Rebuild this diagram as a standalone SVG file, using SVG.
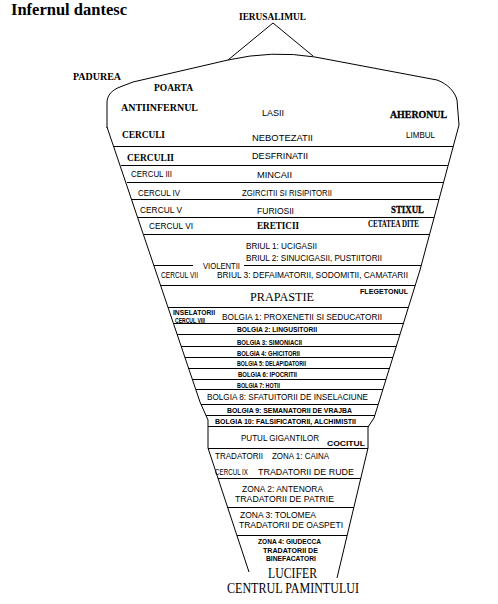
<svg xmlns="http://www.w3.org/2000/svg" width="498" height="604" viewBox="0 0 498 604">
<style>
.ln{stroke:#000;stroke-width:1;fill:none}
.m{font-family:"Liberation Serif","Times New Roman",serif;font-size:10px;font-weight:bold;fill:#000}
.mb{font-family:"Liberation Serif","Times New Roman",serif;font-size:11px;font-weight:bold;fill:#000;stroke:#000;stroke-width:0.3}
.s{font-family:"Liberation Sans",Arial,sans-serif;font-size:9.5px;fill:#000}
.b{font-family:"Liberation Sans",Arial,sans-serif;font-size:7.5px;font-weight:bold;fill:#000}
.r{font-family:"Liberation Serif","Times New Roman",serif;fill:#000}
</style>
<rect width="498" height="604" fill="#fff"/>
<text id="title" class="r" x="11" y="15" font-size="16" font-weight="bold" textLength="116" lengthAdjust="spacingAndGlyphs">Infernul dantesc</text>

<g id="outline">
<path class="ln" d="M107,128 L107,103 C107,95 112,90 120,87 L133,82 L228,60 Q272,50 315,57 L437,80 C448,84 455,92 457,100 L459,125"/>
<path class="ln" d="M228,60 L273,23 L313,56"/>
<polyline class="ln" points="107,127 200,402 208,420 208,448 249,572"/>
<polyline class="ln" points="459,125 420,270 374,418 368,427 368,448 337,578"/>
</g>

<g id="connectors">
<line class="ln" x1="114" y1="146.5" x2="453" y2="146.5"/>
<line class="ln" x1="121" y1="165.5" x2="448" y2="165.5"/>
<line class="ln" x1="127" y1="182.5" x2="444" y2="182.5"/>
<line class="ln" x1="132" y1="199.5" x2="439" y2="199.5"/>
<line class="ln" x1="138" y1="217.5" x2="434" y2="217.5"/>
<line class="ln" x1="144" y1="234.5" x2="430" y2="234.5"/>
<line class="ln" x1="154" y1="265.5" x2="193" y2="265.5"/>
<line class="ln" x1="244" y1="265.5" x2="421" y2="265.5"/>
<line class="ln" x1="160" y1="285.5" x2="415" y2="285.5"/>
<line class="ln" x1="168" y1="307.5" x2="408" y2="307.5"/>
<line class="ln" x1="173" y1="323.5" x2="404" y2="323.5"/>
<line class="ln" x1="177" y1="334.5" x2="400" y2="334.5"/>
<line class="ln" x1="181" y1="346.5" x2="396" y2="346.5"/>
<line class="ln" x1="185" y1="357.5" x2="393" y2="357.5"/>
<line class="ln" x1="188" y1="368.5" x2="390" y2="368.5"/>
<line class="ln" x1="192" y1="379.5" x2="386" y2="379.5"/>
<line class="ln" x1="196" y1="389.5" x2="383" y2="389.5"/>
<line class="ln" x1="201" y1="404.5" x2="378" y2="404.5"/>
<line class="ln" x1="206" y1="415.5" x2="375" y2="415.5"/>
<line class="ln" x1="208" y1="426.5" x2="369" y2="426.5"/>
<line class="ln" x1="208" y1="448.5" x2="368" y2="448.5"/>
<line class="ln" x1="218" y1="478.5" x2="361" y2="478.5"/>
<line class="ln" x1="227" y1="507.5" x2="354" y2="507.5"/>
<line class="ln" x1="237" y1="535.5" x2="347" y2="535.5"/>
</g>

<g id="top">
<text class="m" x="239" y="20" textLength="67" lengthAdjust="spacingAndGlyphs">IERUSALIMUL</text>
<text class="m" x="73" y="79.5" textLength="48" lengthAdjust="spacingAndGlyphs">PADUREA</text>
<text class="m" x="154" y="90.5" textLength="39" lengthAdjust="spacingAndGlyphs">POARTA</text>
</g>
<g id="antiinfern">
<text class="m" x="121" y="110.5" textLength="77" lengthAdjust="spacingAndGlyphs">ANTIINFERNUL</text>
<text class="s" x="262" y="115.5" textLength="22" lengthAdjust="spacingAndGlyphs">LASII</text>
<text class="mb" x="390" y="118" textLength="57" lengthAdjust="spacingAndGlyphs">AHERONUL</text>
</g>
<g id="cercul1">
<text class="m" x="122" y="138" textLength="43" lengthAdjust="spacingAndGlyphs">CERCULI</text>
<text class="s" x="252" y="140.5" textLength="61" lengthAdjust="spacingAndGlyphs">NEBOTEZATII</text>
<text class="s" x="406" y="137.5" font-size="8.5" textLength="29" lengthAdjust="spacingAndGlyphs">LIMBUL</text>
</g>
<g id="cercul2">
<text class="m" x="127" y="160.5" textLength="47" lengthAdjust="spacingAndGlyphs">CERCULII</text>
<text class="s" x="252" y="159" textLength="56" lengthAdjust="spacingAndGlyphs">DESFRINATII</text>
</g>
<g id="cercul3">
<text class="s" x="131" y="177" textLength="41" lengthAdjust="spacingAndGlyphs">CERCUL III</text>
<text class="s" x="257" y="178" textLength="35" lengthAdjust="spacingAndGlyphs">MINCAII</text>
</g>
<g id="cercul4">
<text class="s" x="138" y="195.5" textLength="42" lengthAdjust="spacingAndGlyphs">CERCUL IV</text>
<text class="s" x="242" y="195.5" font-size="8.5" textLength="90" lengthAdjust="spacingAndGlyphs">ZGIRCITII SI RISIPITORII</text>
</g>
<g id="cercul5">
<text class="s" x="140" y="213" textLength="42" lengthAdjust="spacingAndGlyphs">CERCUL V</text>
<text class="s" x="257" y="214" textLength="37" lengthAdjust="spacingAndGlyphs">FURIOSII</text>
<text class="mb" x="391" y="212.5" font-size="10" textLength="33" lengthAdjust="spacingAndGlyphs">STIXUL</text>
</g>
<g id="cercul6">
<text class="s" x="149" y="229" textLength="44" lengthAdjust="spacingAndGlyphs">CERCUL VI</text>
<text class="m" x="257" y="229" textLength="42" lengthAdjust="spacingAndGlyphs">ERETICII</text>
<text class="m" x="368" y="227" font-size="7.5" textLength="51" lengthAdjust="spacingAndGlyphs">CETATEA  DITE</text>
</g>
<g id="cercul7">
<text class="s" x="246" y="248.5" textLength="71" lengthAdjust="spacingAndGlyphs">BRIUL 1:  UCIGASII</text>
<text class="s" x="246" y="260.5" textLength="136" lengthAdjust="spacingAndGlyphs">BRIUL 2:  SINUCIGASII,  PUSTIITORII</text>
<text class="s" x="203" y="268.5" textLength="37" lengthAdjust="spacingAndGlyphs">VIOLENTII</text>
<text class="s" x="161" y="278" textLength="37" lengthAdjust="spacingAndGlyphs">CERCUL VII</text>
<text class="s" x="217" y="278" textLength="191" lengthAdjust="spacingAndGlyphs">BRIUL 3: DEFAIMATORII,  SODOMITII, CAMATARII</text>
</g>
<g id="prapastie">
<text class="r" x="250" y="301" font-size="13" textLength="64" lengthAdjust="spacingAndGlyphs">PRAPASTIE</text>
<text class="b" x="360" y="293.5" font-size="8.5" textLength="48" lengthAdjust="spacingAndGlyphs">FLEGETONUL</text>
</g>
<g id="cercul8">
<text class="b" x="173" y="315" font-size="6.5" textLength="42" lengthAdjust="spacingAndGlyphs">INSELATORII</text>
<text class="b" x="175" y="322.5" font-size="5" textLength="30" lengthAdjust="spacingAndGlyphs">CERCUL VIII</text>
<text class="s" x="222" y="319.5" font-size="10" textLength="160" lengthAdjust="spacingAndGlyphs">BOLGIA 1:  PROXENETII  SI  SEDUCATORII</text>
<text class="b" x="237" y="332" textLength="80" lengthAdjust="spacingAndGlyphs">BOLGIA 2: LINGUSITORII</text>
<text class="b" x="237" y="345" textLength="65" lengthAdjust="spacingAndGlyphs">BOLGIA 3: SIMONIACII</text>
<text class="b" x="237" y="355.5" textLength="63" lengthAdjust="spacingAndGlyphs">BOLGIA 4: GHICITORII</text>
<text class="b" x="237" y="366" textLength="69" lengthAdjust="spacingAndGlyphs">BOLGIA 5: DELAPIDATORII</text>
<text class="b" x="238" y="377" textLength="59" lengthAdjust="spacingAndGlyphs">BOLGIA 6: IPOCRITII</text>
<text class="b" x="237" y="387.5" textLength="43" lengthAdjust="spacingAndGlyphs">BOLGIA 7: HOTII</text>
<text class="s" x="207" y="399.5" font-size="10" textLength="161" lengthAdjust="spacingAndGlyphs">BOLGIA 8:  SFATUITORII DE  INSELACIUNE</text>
<text class="b" x="227" y="412.5" textLength="125" lengthAdjust="spacingAndGlyphs">BOLGIA 9:  SEMANATORII DE VRAJBA</text>
<text class="b" x="215" y="424" textLength="141" lengthAdjust="spacingAndGlyphs">BOLGIA 10: FALSIFICATORII, ALCHIMISTII</text>
</g>
<g id="putul">
<text class="s" x="241" y="441" font-size="8.8" textLength="78" lengthAdjust="spacingAndGlyphs">PUTUL  GIGANTILOR</text>
<text class="b" x="327" y="446" font-size="8.5" textLength="38" lengthAdjust="spacingAndGlyphs">COCITUL</text>
</g>
<g id="cercul9">
<text class="s" x="215" y="458.5" font-size="9" textLength="48" lengthAdjust="spacingAndGlyphs">TRADATORII</text>
<text class="s" x="272" y="458.5" textLength="57" lengthAdjust="spacingAndGlyphs">ZONA 1: CAINA</text>
<text class="s" x="215" y="475" font-size="7.2" textLength="33" lengthAdjust="spacingAndGlyphs">CERCUL IX</text>
<text class="s" x="258" y="475" font-size="9.2" textLength="96" lengthAdjust="spacingAndGlyphs">TRADATORII DE RUDE</text>
</g>
<g id="zona2">
<text class="s" x="242" y="491.5" textLength="81" lengthAdjust="spacingAndGlyphs">ZONA 2:  ANTENORA</text>
<text class="s" x="235" y="501.5" textLength="99" lengthAdjust="spacingAndGlyphs">TRADATORII DE PATRIE</text>
</g>
<g id="zona3">
<text class="s" x="240" y="518" textLength="76" lengthAdjust="spacingAndGlyphs">ZONA 3: TOLOMEA</text>
<text class="s" x="239" y="528" textLength="104" lengthAdjust="spacingAndGlyphs">TRADATORII DE OASPETI</text>
</g>
<g id="zona4">
<text class="b" x="258" y="544" textLength="63" lengthAdjust="spacingAndGlyphs">ZONA 4: GIUDECCA</text>
<text class="b" x="263" y="552.5" textLength="55" lengthAdjust="spacingAndGlyphs">TRADATORII DE</text>
<text class="b" x="266" y="561" textLength="50" lengthAdjust="spacingAndGlyphs">BINEFACATORI</text>
</g>
<g id="lucifer">
<text class="r" x="268" y="578" font-size="15" textLength="49" lengthAdjust="spacingAndGlyphs">LUCIFER</text>
<text class="r" x="227" y="593" font-size="14" textLength="132" lengthAdjust="spacingAndGlyphs">CENTRUL PAMINTULUI</text>
</g>
</svg>
